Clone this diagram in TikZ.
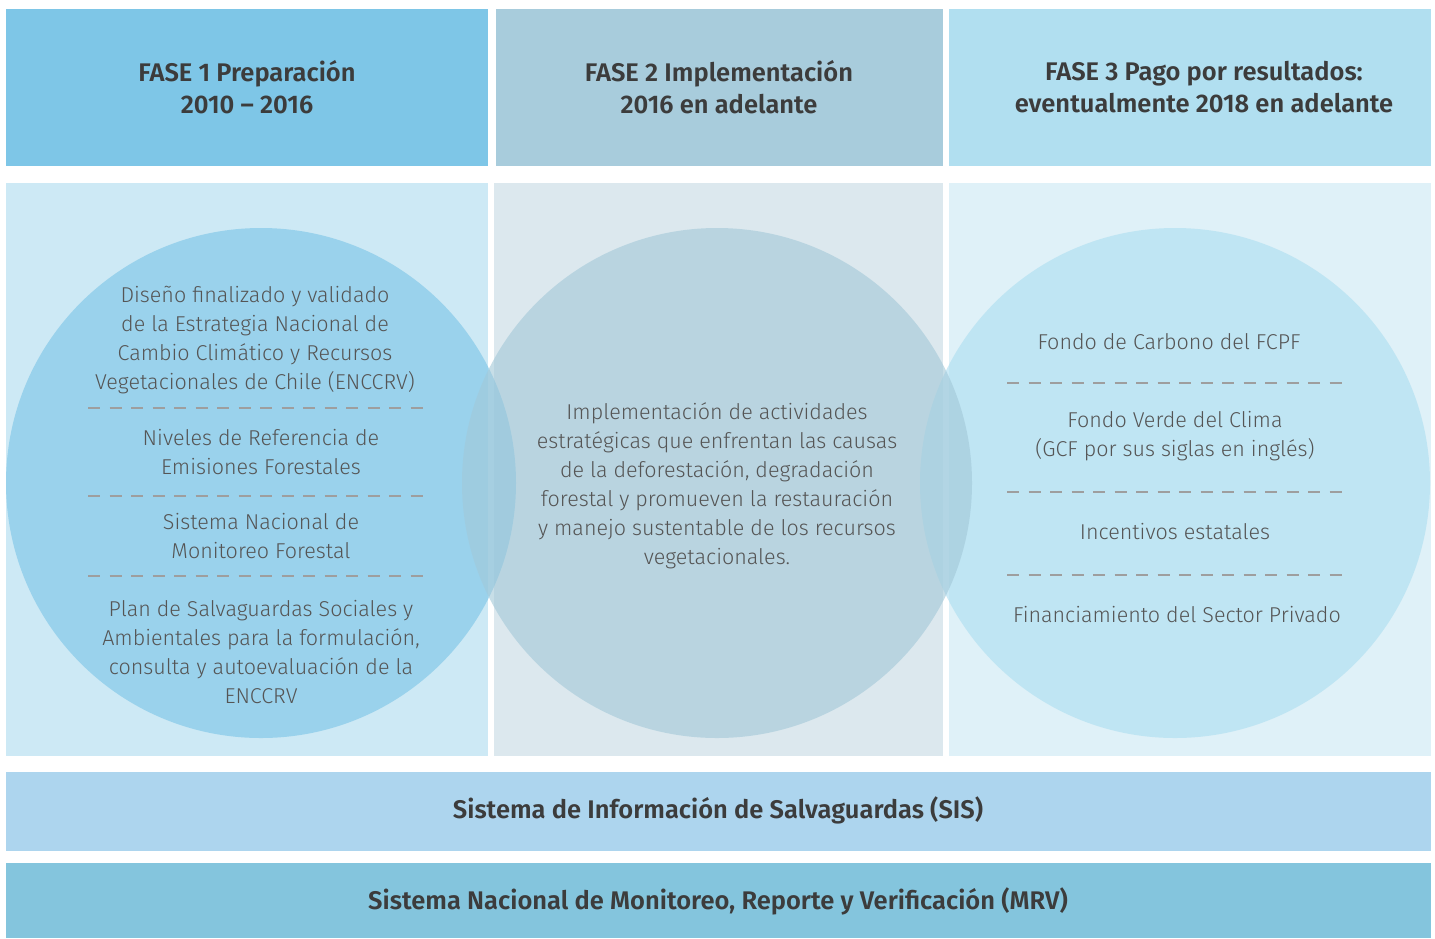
\documentclass[tikz,border=0pt]{standalone}
\usepackage{fontspec}
\setmainfont{Fira Sans}[UprightFont=* Light, BoldFont=* SemiBold]
\definecolor{hA}{HTML}{7EC6E7}
\definecolor{hB}{HTML}{A8CCDC}
\definecolor{hC}{HTML}{B1DFF0}
\definecolor{pA}{HTML}{CDE9F5}
\definecolor{pB}{HTML}{DCE8EE}
\definecolor{pC}{HTML}{DFF1F8}
\definecolor{cA}{RGB}{120,195,230}
\definecolor{cB}{RGB}{162,200,216}
\definecolor{cC}{RGB}{171,221,240}
\definecolor{barA}{HTML}{ADD5EE}
\definecolor{barB}{HTML}{84C5DD}
\definecolor{txt}{HTML}{555555}
\definecolor{htxt}{HTML}{3C3C3C}
\definecolor{dashc}{HTML}{9E9E9E}
\tikzset{
  hdrtext/.style={font=\fontsize{25.5}{32}\selectfont\bfseries, text=htxt, align=center, inner sep=0pt},
  bodytext/.style={font=\fontsize{21.5}{29}\selectfont, text=txt, align=center, inner sep=0pt},
  sepline/.style={draw=dashc, line width=1.3pt, dash pattern=on 12pt off 9.5pt},
  circ/.style={circle, minimum size=510pt, inner sep=0pt, fill opacity=0.6}
}
\begin{document}
\begin{tikzpicture}[x=1pt,y=-1pt]
\useasboundingbox (0,0) rectangle (1435,938);
\fill[white] (0,0) rectangle (1435,938);
% headers
\fill[hA] (6,9) rectangle (488,166);
\fill[hB] (496,9) rectangle (943,166);
\fill[hC] (949,9) rectangle (1431,166);
% panels
\fill[pA] (6,183) rectangle (488,756);
\fill[pB] (494,183) rectangle (943,756);
\fill[pC] (949,183) rectangle (1431,756);
% circles
\node[circ, fill=cA] (c1) at (261,483) {};
\node[circ, fill=cC] (c3) at (1175,483) {};
\node[circ, fill=cB] (c2) at (717,483) {};
% bars
\fill[barA] (6,772) rectangle (1431,851);
\fill[barB] (6,863) rectangle (1431,938);
% header texts
\node[hdrtext] (t1) at (247,87) {FASE 1 Preparación\\2010 – 2016};
\node[hdrtext] (t2) at (719,87) {FASE 2 Implementación\\2016 en adelante};
\node[hdrtext] (t3) at (1204,87) {FASE 3 Pago por resultados:\\eventualmente 2018 en adelante};
% left circle text
\node[bodytext] (l1) at (255,340) {Diseño finalizado y validado\\de la Estrategia Nacional de\\Cambio Climático y Recursos\\Vegetacionales de Chile (ENCCRV)};
\node[bodytext] (l2) at (261,452) {Niveles de Referencia de\\Emisiones Forestales};
\node[bodytext] (l3) at (261,536) {Sistema Nacional de\\Monitoreo Forestal};
\node[bodytext] (l4) at (261,652) {Plan de Salvaguardas Sociales y\\Ambientales para la formulación,\\consulta y autoevaluación de la\\ENCCRV};
\draw[sepline] (88,408) -- (424,408);
\draw[sepline] (88,496) -- (424,496);
\draw[sepline] (88,576) -- (424,576);
% middle
\node[bodytext] (m1) at (717,486) {Implementación de actividades\\estratégicas que enfrentan las causas\\de la deforestación, degradación\\forestal y promueven la restauración\\y manejo sustentable de los recursos\\vegetacionales.};
% right
\node[bodytext] (r1) at (1169,342) {Fondo de Carbono del FCPF};
\node[bodytext] (r2) at (1175,436) {Fondo Verde del Clima\\(GCF por sus siglas en inglés)};
\node[bodytext] (r3) at (1175,532) {Incentivos estatales};
\node[bodytext] (r4) at (1177,615) {Financiamiento del Sector Privado};
\draw[sepline] (1007,383) -- (1344,383);
\draw[sepline] (1007,492) -- (1344,492);
\draw[sepline] (1007,575) -- (1344,575);
% bars text
\node[hdrtext] (b1) at (718,810) {Sistema de Información de Salvaguardas (SIS)};
\node[hdrtext] (b2) at (718,901) {Sistema Nacional de Monitoreo, Reporte y Verificación (MRV)};
\end{tikzpicture}
\end{document}
